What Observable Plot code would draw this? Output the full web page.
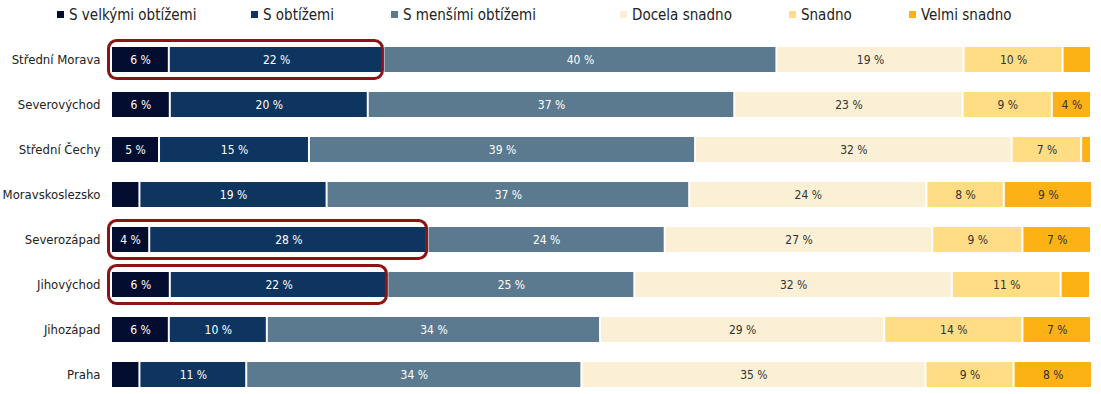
<!DOCTYPE html>
<html><head><meta charset="utf-8">
<script src="https://cdn.jsdelivr.net/npm/d3@7"></script>
<script src="https://cdn.jsdelivr.net/npm/@observablehq/plot@0.6"></script>
<style>
body{margin:0;background:#fff;font-family:"Liberation Sans Narrow","DejaVu Sans Condensed","Roboto",sans-serif;}
#legend{position:relative;height:30px;width:1101px;font-size:15px;color:#222;}
.li{position:absolute;top:5px;white-space:nowrap;line-height:20px;}
.sw{display:inline-block;width:7px;height:7px;margin-right:5px;vertical-align:middle;position:relative;top:-1px;}
#chart svg{display:block;}
</style></head><body>
<div id="legend"></div>
<div id="chart"></div>
<script>
const regions = ["Střední Morava","Severovýchod","Střední Čechy","Moravskoslezsko","Severozápad","Jihovýchod","Jihozápad","Praha"];
const categories = ["S velkými obtížemi","S obtížemi","S menšími obtížemi","Docela snadno","Snadno","Velmi snadno"];
const colors = ["#020d30","#0d3560","#5b7a8f","#fbf0d5","#fedd84","#fcb115"];
const values = [
  [5.9,21.9,40.1,19.1,10.1,2.9],
  [6.0,20.2,37.4,23.3,9.1,4.0],
  [4.9,15.3,39.4,32.3,7.1,1.0],
  [2.9,19.1,37.0,24.2,7.9,9.0],
  [3.9,28.4,24.2,27.3,9.2,7.0],
  [6.0,22.2,25.2,32.4,11.1,3.0],
  [5.9,10.0,34.0,29.0,14.1,7.0],
  [2.9,10.9,34.2,35.1,9.0,8.0]
];
const highlighted = ["Střední Morava","Severozápad","Jihovýchod"];
const legendX = [57,251,391,620,789,909];

const data = [];
categories.forEach((c, ci) => regions.forEach((r, ri) => data.push({region: r, cat: c, ci, value: values[ri][ci]})));
const hl = highlighted.map(r => {const ri = regions.indexOf(r); return {region: r, end: values[ri][0] + values[ri][1]};});

const lg = document.getElementById("legend");
categories.forEach((c, i) => {
  const d = document.createElement("div");
  d.className = "li"; d.style.left = legendX[i] + "px";
  d.innerHTML = `<span class="sw" style="background:${colors[i]}"></span>${c}`;
  lg.appendChild(d);
});

const chart = Plot.plot({
  width: 1101, height: 364,
  marginLeft: 111, marginRight: 10, marginTop: 10.5, marginBottom: 0,
  style: {fontFamily: '"Liberation Sans Narrow","DejaVu Sans Condensed",Roboto,sans-serif', fontSize: "12px", background: "#fff"},
  x: {domain: [0, 100], axis: null},
  y: {domain: regions, paddingInner: 0.45, paddingOuter: 0.0975, label: null, tickSize: 0, tickPadding: 11},
  color: {domain: categories, range: colors},
  marks: [
    Plot.barX(data, Plot.stackX({x: "value", y: "region", z: "cat", fill: "cat", insetLeft: 1, insetRight: 1})),
    Plot.text(data, Plot.stackX({x: "value", y: "region", z: "cat",
      text: d => d.value >= 3.5 ? Math.round(d.value) + " %" : "",
      fill: d => d.ci < 3 ? "#ffffff" : "#333333", fontSize: 12})),
    Plot.barX(hl, {x1: 0, x2: "end", y: "region", fill: "none", stroke: "#8b1414", strokeWidth: 3, rx: 8,
      insetTop: -6.5, insetBottom: -6.5, insetLeft: -2.5, insetRight: 1}),
    Plot.axisY({tickSize: 0, tickPadding: 11, fontSize: 13, label: null, fill: "#222"})
  ]
});
document.getElementById("chart").appendChild(chart);
</script>
</body></html>
